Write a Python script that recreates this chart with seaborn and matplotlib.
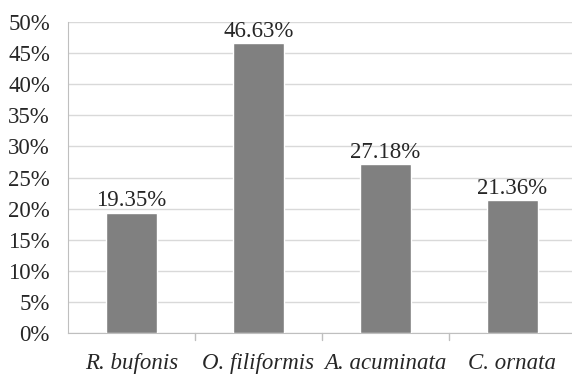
import pandas as pd
import matplotlib.pyplot as plt
import seaborn as sns

species = ["R. bufonis", "O. filiformis", "A. acuminata", "C. ornata"]
percent = [19.35, 46.63, 27.18, 21.36]
yticks = [0, 5, 10, 15, 20, 25, 30, 35, 40, 45, 50]

df = pd.DataFrame({"species": species, "percent": percent})

sns.set_style("white")
plt.rcParams['font.family'] = ['Liberation Serif', 'DejaVu Serif']

fig = plt.figure(figsize=(5.72, 3.76), dpi=100)
ax = fig.add_axes([68 / 572, 43 / 376, 508 / 572, 311 / 376])

sns.barplot(data=df, x="species", y="percent", color="#808080", saturation=1,
            width=0.4, ax=ax, zorder=3)

ax.set_xlim(-0.5, 3.5)
ax.set_ylim(0, 50)
ax.set_yticks(yticks)
ax.set_yticklabels([f"{t}%" for t in yticks], fontsize=16.5)
ax.yaxis.grid(True, color="#d9d9d9", linewidth=1, zorder=0)
ax.set_axisbelow(True)

# category labels centered, tick marks between categories
ax.set_xticks(range(len(species)))
ax.set_xticklabels(species, fontsize=16.5, style="italic")
ax.tick_params(axis="x", length=0, pad=14.5)
ax.tick_params(axis="y", length=0, pad=13)
for b in [0.5, 1.5, 2.5]:
    ax.plot([b, b], [0, -1.2], color="#bfbfbf", lw=1, clip_on=False)

for i, v in enumerate(percent):
    ax.text(i, v + 0.2, f"{v:.2f}%", ha="center", va="bottom", fontsize=16.5)

for s in ["top", "right"]:
    ax.spines[s].set_visible(False)
ax.spines["left"].set_color("#bfbfbf")
ax.spines["bottom"].set_color("#bfbfbf")
ax.set_xlabel("")
ax.set_ylabel("")

fig.savefig("out.png", dpi=100)
